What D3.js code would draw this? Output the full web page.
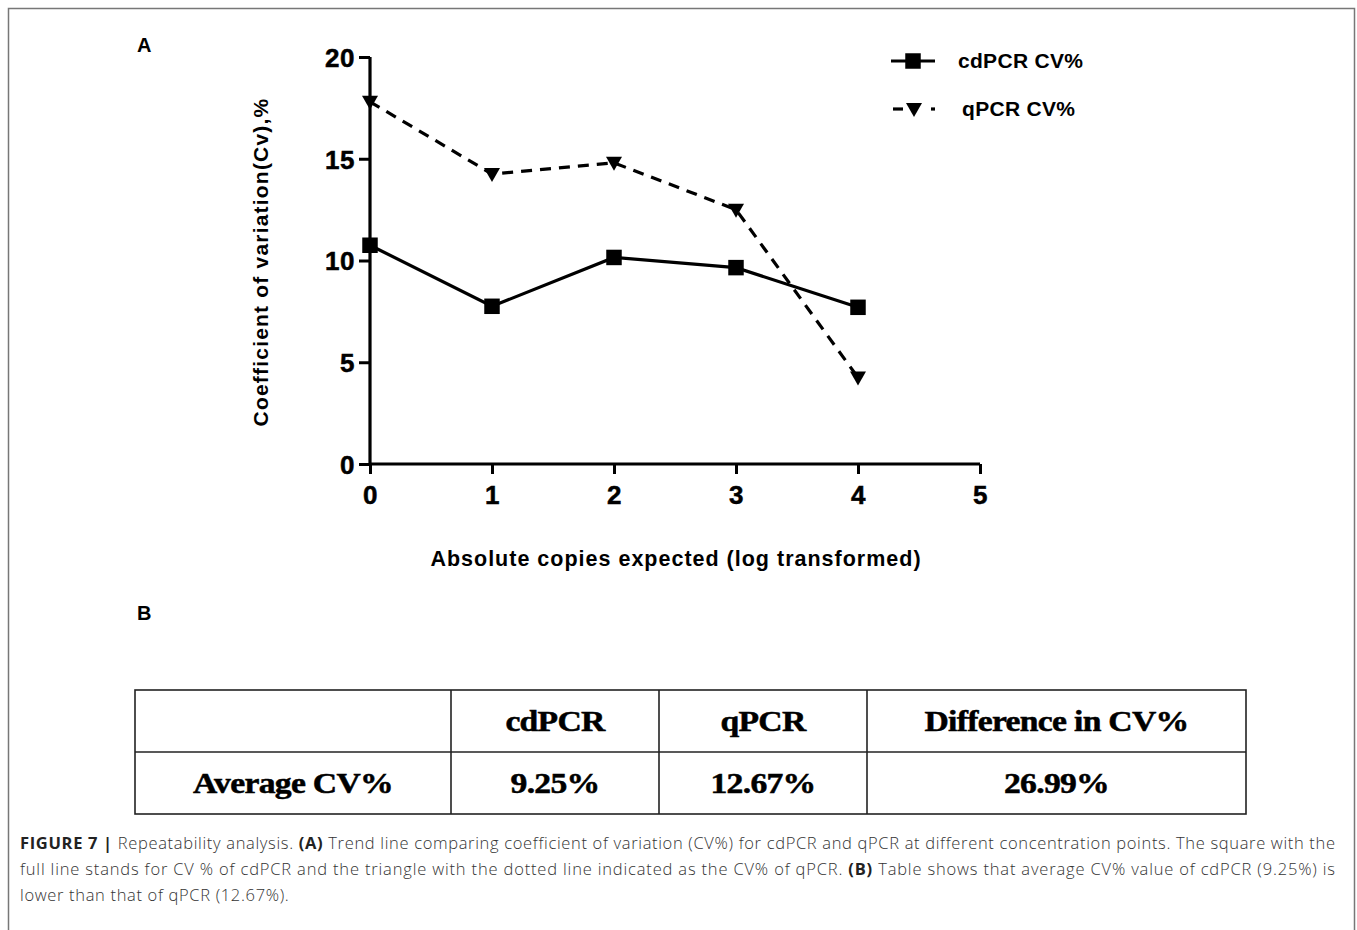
<!DOCTYPE html>
<html>
<head>
<meta charset="utf-8">
<script src="https://cdn.jsdelivr.net/npm/d3@7"></script>
<style>
  body { margin: 0; background: #fff; }
  svg { display: block; }
</style>
</head>
<body>
<svg id="vis" width="1357" height="930"></svg>
<script>
// data
var xValues = [0, 1, 2, 3, 4];
var cdpcrCV = [10.75, 7.75, 10.15, 9.65, 7.7];
var qpcrCV = [17.8, 14.25, 14.8, 12.5, 4.25];
var xTicks = [0, 1, 2, 3, 4, 5];
var yTicks = [0, 5, 10, 15, 20];
var seriesNames = ["cdPCR CV%", "qPCR CV%"];

var tableHeader = ["", "cdPCR", "qPCR", "Difference in CV%"];
var tableRow = ["Average CV%", "9.25%", "12.67%", "26.99%"];

var captionLines = [
    [["b", "FIGURE 7 |"], ["n", " Repeatability analysis. "], ["b", "(A)"], ["n", " Trend line comparing coefficient of variation (CV%) for cdPCR and qPCR at different concentration points. The square with the"]],
    [["n", "full line stands for CV % of cdPCR and the triangle with the dotted line indicated as the CV% of qPCR. "], ["b", "(B)"], ["n", " Table shows that average CV% value of cdPCR (9.25%) is"]],
    [["n", "lower than that of qPCR (12.67%)."]]
];

const PLOT = { left: 370, right: 980, top: 57, bottom: 464 };
const SANS = "Liberation Sans, Arial, sans-serif";
const SERIF = "Liberation Serif, Times New Roman, serif";

var svg = d3.select("#vis");

// frame round the figure
svg.append("path")
    .attr("d", "M8.5,940 V8.5 H1354.5 V940")
    .attr("fill", "none")
    .attr("stroke", "#777")
    .attr("stroke-width", 1.5);

// panel letters
svg.append("text").attr("x", 137).attr("y", 52).text("A")
    .style("font-family", SANS).style("font-weight", "bold").style("font-size", "20px");
svg.append("text").attr("x", 137).attr("y", 620).text("B")
    .style("font-family", SANS).style("font-weight", "bold").style("font-size", "20px");

// scales
var xScale = d3.scaleLinear().domain([0, 5]).range([PLOT.left, PLOT.right]);
var yScale = d3.scaleLinear().domain([0, 20]).range([PLOT.bottom, PLOT.top]);

// axes
var xAxis = d3.axisBottom(xScale).tickValues(xTicks).tickSize(10).tickPadding(7).tickFormat(d3.format("d"));
var yAxis = d3.axisLeft(yScale).tickValues(yTicks).tickSize(11).tickPadding(4).tickFormat(d3.format("d"));

var gx = svg.append("g").attr("transform", `translate(0, ${PLOT.bottom})`).call(xAxis);
var gy = svg.append("g").attr("transform", `translate(${PLOT.left}, 0)`).call(yAxis);

[gx, gy].forEach(function(g){
    g.select(".domain").attr("stroke", "#000").attr("stroke-width", 3.2)
        .attr("d", g === gx ? `M${PLOT.left},0H${PLOT.right}` : `M0,${PLOT.bottom}V${PLOT.top}`);
    g.selectAll(".tick line").attr("stroke", "#000").attr("stroke-width", 3);
    g.selectAll(".tick text")
        .style("font-family", SANS).style("font-weight", "bold").style("font-size", "26px")
        .style("letter-spacing", "0.5px")
        .attr("fill", "#000").attr("stroke", "#000").attr("stroke-width", 0.5);
});
gx.selectAll(".tick text").attr("dy", "0.9em");
gy.selectAll(".tick text").attr("dy", "0.36em");

// axis titles
svg.append("text")
    .attr("x", 676).attr("y", 566)
    .style("text-anchor", "middle")
    .style("font-family", SANS).style("font-weight", "bold").style("font-size", "21.5px")
    .style("letter-spacing", "1px")
    .text("Absolute copies expected (log transformed)");

svg.append("text")
    .attr("transform", "translate(268, 262) rotate(-90)")
    .style("text-anchor", "middle")
    .style("font-family", SANS).style("font-weight", "bold").style("font-size", "21px")
    .style("letter-spacing", "1.2px")
    .text("Coefficient of variation(Cv),%");

// lines
var line = d3.line()
    .x(function(d, i){ return xScale(xValues[i]); })
    .y(function(d){ return yScale(d); });

svg.append("path")
    .attr("d", line(qpcrCV))
    .attr("fill", "none").attr("stroke", "#000").attr("stroke-width", 3.2)
    .attr("stroke-dasharray", "11,8");

svg.append("path")
    .attr("d", line(cdpcrCV))
    .attr("fill", "none").attr("stroke", "#000").attr("stroke-width", 3.2);

var square = d3.symbol().type(d3.symbolSquare).size(240);
var tri = "M-8,-6 L8,-6 L0,8 Z";

svg.selectAll("path.sq")
    .data(cdpcrCV)
    .enter()
    .append("path")
    .attr("class", "sq")
    .attr("d", square)
    .attr("transform", function(d, i){ return `translate(${xScale(xValues[i])}, ${yScale(d)})`; })
    .attr("fill", "#000");

svg.selectAll("path.tri")
    .data(qpcrCV)
    .enter()
    .append("path")
    .attr("class", "tri")
    .attr("d", tri)
    .attr("transform", function(d, i){ return `translate(${xScale(xValues[i])}, ${yScale(d)})`; })
    .attr("fill", "#000");

// legend
var legend = svg.append("g");
legend.append("line").attr("x1", 891).attr("x2", 935).attr("y1", 61).attr("y2", 61)
    .attr("stroke", "#000").attr("stroke-width", 3.2);
legend.append("path").attr("d", square).attr("transform", "translate(913, 61)").attr("fill", "#000");
legend.append("line").attr("x1", 893).attr("x2", 903).attr("y1", 109).attr("y2", 109)
    .attr("stroke", "#000").attr("stroke-width", 3.2);
legend.append("path").attr("d", tri).attr("transform", "translate(914, 109)").attr("fill", "#000");
legend.append("line").attr("x1", 931).attr("x2", 935).attr("y1", 109).attr("y2", 109)
    .attr("stroke", "#000").attr("stroke-width", 3.2);
legend.selectAll("text")
    .data(seriesNames)
    .enter()
    .append("text")
    .attr("x", function(d, i){ return i === 0 ? 958 : 962; })
    .attr("y", function(d, i){ return i === 0 ? 68 : 116; })
    .style("font-family", SANS).style("font-weight", "bold").style("font-size", "21px")
    .style("letter-spacing", "0.3px")
    .text(function(d){ return d; });

// table
var colEdges = [135, 451, 659, 867, 1246];
var rowEdges = [690, 752, 814];
var tbl = svg.append("g");
tbl.append("rect")
    .attr("x", colEdges[0]).attr("y", rowEdges[0])
    .attr("width", colEdges[4] - colEdges[0]).attr("height", rowEdges[2] - rowEdges[0])
    .attr("fill", "none").attr("stroke", "#222").attr("stroke-width", 1.6);
tbl.append("line").attr("x1", colEdges[0]).attr("x2", colEdges[4]).attr("y1", rowEdges[1]).attr("y2", rowEdges[1])
    .attr("stroke", "#222").attr("stroke-width", 1.6);
colEdges.slice(1, 4).forEach(function(x){
    tbl.append("line").attr("x1", x).attr("x2", x).attr("y1", rowEdges[0]).attr("y2", rowEdges[2])
        .attr("stroke", "#222").attr("stroke-width", 1.6);
});
[tableHeader, tableRow].forEach(function(row, r){
    tbl.selectAll("text.r" + r)
        .data(row)
        .enter()
        .append("text")
        .attr("class", "r" + r)
        .attr("transform", function(d, i){
            var cx = (colEdges[i] + colEdges[i + 1]) / 2;
            var cy = (rowEdges[r] + rowEdges[r + 1]) / 2 + 10;
            return `translate(${cx}, ${cy}) scale(1.16, 1)`;
        })
        .style("text-anchor", "middle")
        .style("font-family", SERIF).style("font-weight", "bold").style("font-size", "29px")
        .style("letter-spacing", "-0.6px")
        .attr("stroke", "#000").attr("stroke-width", 0.5)
        .text(function(d){ return d; });
});

// caption: first two lines are justified to the right margin
var capY = [849, 875, 901];
var capLeft = 20, capRight = 1335;
var firstSpacing = 0;
captionLines.forEach(function(parts, li){
    var t = svg.append("text")
        .attr("x", capLeft).attr("y", capY[li])
        .style("font-family", "Open Sans, Liberation Sans, sans-serif")
        .style("font-size", "16.5px")
        .attr("fill", "#333");
    parts.forEach(function(p){
        t.append("tspan")
            .style("font-weight", p[0] === "b" ? "bold" : "300")
            .attr("fill", p[0] === "b" ? "#222" : "#333")
            .text(p[1]);
    });
    var full = parts.map(function(p){ return p[1]; }).join("");
    if (li < 2) {
        var len = t.node().getComputedTextLength();
        var ls = (capRight - capLeft - len) / (full.length - 1);
        if (li === 0) firstSpacing = ls;
        t.style("letter-spacing", ls + "px");
    } else {
        t.style("letter-spacing", firstSpacing + "px");
    }
});
</script>
</body>
</html>
